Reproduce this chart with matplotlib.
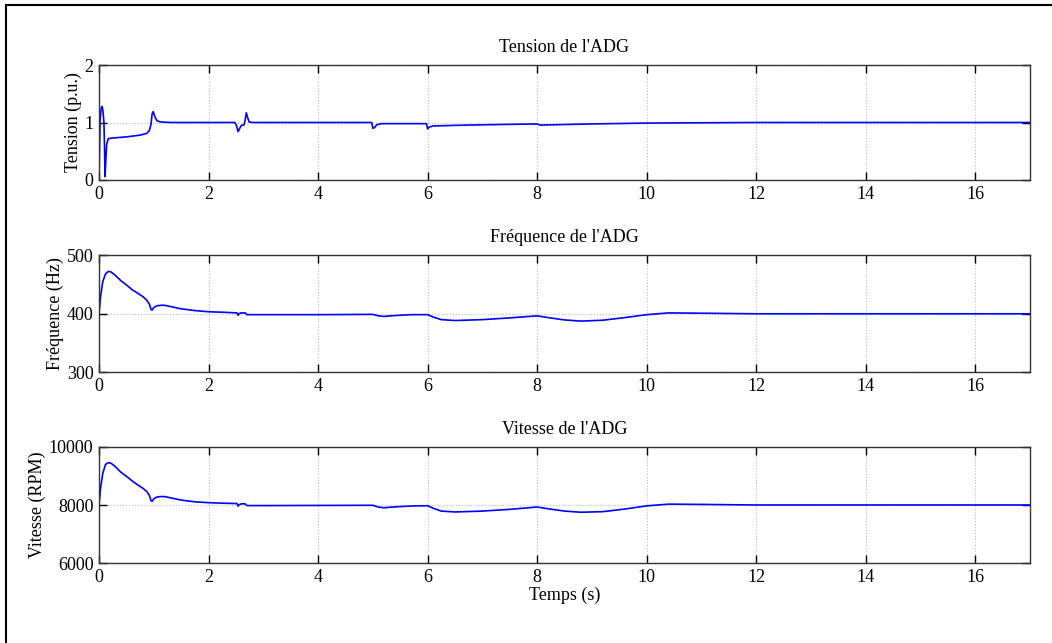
import matplotlib
matplotlib.use('Agg')
import matplotlib.pyplot as plt
from matplotlib.lines import Line2D

plt.rcParams['font.family'] = ['Liberation Serif', 'DejaVu Serif']
plt.rcParams['font.size'] = 13

# tension (p.u.)
t_v = [0, 0.02, 0.04, 0.055, 0.07, 0.09, 0.1, 0.11, 0.125, 0.14,
       0.17, 0.25, 0.5, 0.75, 0.87, 0.92, 0.95, 0.97, 0.99, 1.02,
       1.06, 1.12, 1.3, 2.0, 2.48, 2.51, 2.54, 2.57, 2.6, 2.65,
       2.67, 2.69, 2.71, 2.74, 2.8, 3.5, 4.98, 5.0, 5.03, 5.07,
       5.15, 5.5, 5.98, 6.0, 6.03, 6.1, 6.5, 7.0, 7.98, 8.0,
       8.05, 8.5, 9.0, 10.0, 11.0, 12.0, 17.0]
tension = [0, 1.05, 1.24, 1.28, 1.22, 1.0, 0.6, 0.06, 0.35, 0.62,
           0.72, 0.73, 0.75, 0.78, 0.81, 0.86, 0.97, 1.15, 1.19, 1.1,
           1.03, 1.01, 1.0, 1.0, 1.0, 0.95, 0.84, 0.9, 0.95, 0.96,
           1.05, 1.17, 1.1, 1.01, 1.0, 1.0, 1.0, 0.9, 0.91, 0.96,
           0.98, 0.98, 0.98, 0.89, 0.92, 0.94, 0.95, 0.96, 0.975, 0.975,
           0.955, 0.965, 0.975, 0.99, 0.995, 1.0, 1.0]

# frequence (Hz) et vitesse (RPM)
t_f = [0, 0.03, 0.07, 0.12, 0.17, 0.22, 0.3, 0.4, 0.5, 0.6,
       0.7, 0.8, 0.87, 0.92, 0.95, 0.97, 1.0, 1.05, 1.12, 1.2,
       1.35, 1.5, 1.75, 2.0, 2.3, 2.52, 2.54, 2.56, 2.6, 2.67,
       2.7, 2.72, 3.0, 4.0, 5.0, 5.1, 5.2, 5.4, 5.7, 6.0,
       6.1, 6.25, 6.5, 7.0, 7.5, 8.0, 8.2, 8.5, 8.8, 9.2,
       9.6, 10.0, 10.4, 11.0, 12.0, 13.0, 14.0, 15.0, 16.0, 17.0]
freq = [400, 430, 455, 468, 472, 471, 465, 456, 449, 441,
        435, 429, 423, 416, 407, 406, 410, 413, 414, 414,
        411, 408, 405, 403, 402, 401, 397, 400, 401, 401,
        398, 398, 398, 398, 398.5, 396, 395, 396.5, 398, 398,
        394, 389.5, 388, 389.5, 392.5, 396, 393, 389, 387, 388.5,
        393, 398, 401, 400.5, 399.5, 399.5, 399.5, 399.5, 399.5, 399.5]
rpm = [8000, 8600, 9100, 9400, 9460, 9440, 9320, 9130, 8990, 8840,
       8700, 8580, 8470, 8330, 8150, 8130, 8210, 8270, 8290, 8290,
       8230, 8170, 8110, 8080, 8060, 8050, 7960, 8010, 8040, 8040,
       7980, 7980, 7980, 7985, 7990, 7930, 7905, 7935, 7965, 7975,
       7890, 7790, 7760, 7790, 7850, 7930, 7870, 7790, 7750, 7770,
       7860, 7970, 8030, 8020, 8000, 8000, 8000, 8000, 8000, 8000]

titles = ["Tension de l'ADG", "Fréquence de l'ADG", "Vitesse de l'ADG"]
ylabels = ['Tension (p.u.)', 'Fréquence (Hz)', 'Vitesse (RPM)']
ylims = [(0, 2), (300, 500), (6000, 10000)]
yticks = [[0, 1, 2], [300, 400, 500], [6000, 8000, 10000]]
xticks = [0, 2, 4, 6, 8, 10, 12, 14, 16]

W, H = 1052, 643
fig = plt.figure(figsize=(W / 100, H / 100), dpi=100)

boxes = [(65, 180), (255, 372), (447, 563)]
series = [(t_v, tension), (t_f, freq), (t_f, rpm)]
left, right = 99, 1030

for i in range(3):
    top, bot = boxes[i]
    ax = fig.add_axes([left / W, 1 - bot / H, (right - left) / W, (bot - top) / H])
    x, y = series[i]
    ax.plot(x, y, color='#0000ff', lw=1.2)
    ax.set_xlim(0, 17)
    ax.set_ylim(*ylims[i])
    ax.set_xticks(xticks)
    ax.set_yticks(yticks[i])
    ax.grid(True, color='#bbbbbb', linestyle=':', linewidth=0.8)
    ax.tick_params(direction='in', top=True, right=True, length=6, width=1, pad=4)
    for sp in ax.spines.values():
        sp.set_color('#333333')
        sp.set_linewidth(1.0)
    ax.set_title(titles[i], fontsize=13, pad=9)
    ax.set_ylabel(ylabels[i], labelpad=2)
    if i == 2:
        ax.set_xlabel('Temps (s)', labelpad=1)

# cadre (haut et gauche seulement)
fig.add_artist(Line2D([6 / W, 1], [1 - 5 / H, 1 - 5 / H], color='black', lw=1.5,
                      transform=fig.transFigure))
fig.add_artist(Line2D([6 / W, 6 / W], [0, 1 - 5 / H], color='black', lw=1.5,
                      transform=fig.transFigure))

fig.savefig('out.png', dpi=100)
